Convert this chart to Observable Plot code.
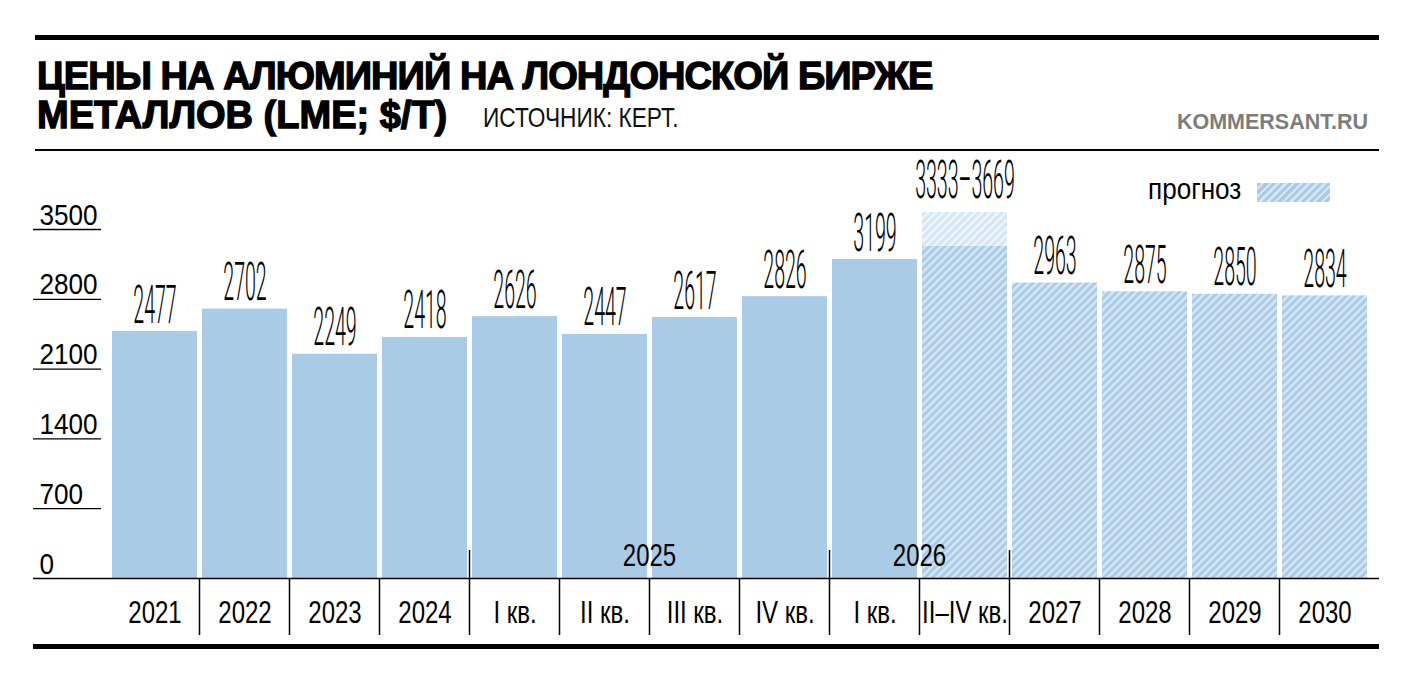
<!DOCTYPE html>
<html>
<head>
<meta charset="utf-8">
<script src="https://cdn.jsdelivr.net/npm/d3@7"></script>
<script src="https://cdn.jsdelivr.net/npm/@observablehq/plot@0.6"></script>
<style>
  html, body { margin: 0; padding: 0; background: #fff; }
  #wrap { position: relative; width: 1412px; height: 680px; overflow: hidden; font-family: "Liberation Sans", Arial, sans-serif; color: #000; }
  .rule { position: absolute; background: #000; }
  .t { position: absolute; white-space: nowrap; }
  .title { left: 37px; font-size: 38px; line-height: 38px; font-weight: 700; -webkit-text-stroke: 1.3px #000; }
  .src { left: 483px; top: 104px; font-size: 28px; line-height: 28px; transform: scaleX(0.81); transform-origin: 0 0; color: #111; }
  .brand { right: 44px; top: 112px; font-size: 21.5px; line-height: 21.5px; font-weight: 700; color: #7d7d7d; letter-spacing: 0px; }
  .legend-text { left: 1148px; top: 175px; font-size: 29px; line-height: 29px; transform: scaleX(0.9); transform-origin: 0 0; }
  .swatch { position: absolute; left: 1257px; top: 183px; width: 73px; height: 19px;
    background: repeating-linear-gradient(135deg, #abcae4 0 3px, #d3e6f5 3px 5.5px); }
  #chart { position: absolute; left: 0; top: 120px; }
</style>
</head>
<body>
<div id="wrap">
  <div class="rule" style="left:35px;top:35px;width:1344px;height:5px"></div>
  <div class="t title" style="top:57px;letter-spacing:-0.95px">ЦЕНЫ НА АЛЮМИНИЙ НА ЛОНДОНСКОЙ БИРЖЕ</div>
  <div class="t title" style="top:96px;letter-spacing:0px">МЕТАЛЛОВ (LME; $/T)</div>
  <div class="t src">ИСТОЧНИК: КЕРТ.</div>
  <div class="t brand">KOMMERSANT.RU</div>
  <div class="rule" style="left:35px;top:149px;width:1344px;height:2px"></div>
  <div id="chart"></div>
  <div class="t legend-text">прогноз</div>
  <div class="swatch"></div>
  <div class="rule" style="left:33px;top:644px;width:1346px;height:5px"></div>
</div>
<script>
// ---- data ----
const keys = ["2021","2022","2023","2024","2025Q1","2025Q2","2025Q3","2025Q4","2026Q1","2026Q2-4","2027","2028","2029","2030"];
const tickLabels = ["2021","2022","2023","2024","I кв.","II кв.","III кв.","IV кв.","I кв.","II–IV кв.","2027","2028","2029","2030"];
const values = [2477, 2702, 2249, 2418, 2626, 2447, 2617, 2826, 3199, 3333, 2963, 2875, 2850, 2834];
const highValues = [null, null, null, null, null, null, null, null, null, 3669, null, null, null, null];
const valueLabels = ["2477","2702","2249","2418","2626","2447","2617","2826","3199","3333–3669","2963","2875","2850","2834"];
const isForecast = [false, false, false, false, false, false, false, false, false, true, true, true, true, true];
const groupNames = ["2025", "2026"];
const groupFrom = ["2025Q1", "2026Q1"];
const groupTo = ["2025Q4", "2026Q2-4"];
const yTicks = [0, 700, 1400, 2100, 2800, 3500];

const rows = keys.map((k, i) => ({
  key: k, value: values[i], high: highValues[i], label: valueLabels[i],
  top: highValues[i] ?? values[i], forecast: isForecast[i]
}));
const labelMap = new Map(keys.map((k, i) => [k, tickLabels[i]]));

function patterns() {
  const g = d3.create("svg:g");
  const defs = g.append("defs");
  const mk = (id, bg, fg) => {
    const p = defs.append("pattern").attr("id", id).attr("patternUnits", "userSpaceOnUse")
      .attr("width", 5.5).attr("height", 5.5).attr("patternTransform", "rotate(45)");
    p.append("rect").attr("width", 5.5).attr("height", 5.5).attr("fill", bg);
    p.append("rect").attr("width", 2.5).attr("height", 5.5).attr("fill", fg);
  };
  mk("hatch", "#abcae4", "#d3e6f5");
  mk("hatchLight", "#d5e5f3", "#eef5fb");
  return g.node();
}

function decorations(index, scales) {
  const x = scales.x, y = scales.y;
  const step = typeof x.step === "function" ? x.step() : (x(keys[1]) - x(keys[0]));
  const bw = typeof x.bandwidth === "function" ? x.bandwidth() : step * 0.945;
  const gap = (step - bw) / 2;
  const y0 = y(0);
  const tall = new Set();
  groupFrom.forEach(k => tall.add(k));
  groupTo.forEach(k => { const j = keys.indexOf(k) + 1; if (j < keys.length) tall.add(keys[j]); });
  const g = d3.create("svg:g").attr("class", "separators");
  keys.slice(1).forEach(k => {
    const bx = x(k) - gap;
    g.append("line").attr("x1", bx).attr("x2", bx)
      .attr("y1", tall.has(k) ? y0 - 28 : y0).attr("y2", y0 + 57)
      .attr("stroke", "#000").attr("stroke-width", 1.5);
  });
  groupNames.forEach((name, i) => {
    const cx = (x(groupFrom[i]) + x(groupTo[i]) + bw) / 2;
    g.append("text").attr("class", "grp").attr("x", cx).attr("y", y0 - 12)
      .attr("text-anchor", "middle").attr("font-size", 32).attr("fill", "#000").text(name);
  });
  return g.node();
}

const valueFont = "Roboto, Liberation Sans, Arial, sans-serif";

const chart = Plot.plot({
  width: 1412,
  height: 560,
  marginLeft: 110,
  marginRight: 42,
  marginTop: 109,
  marginBottom: 102,
  style: { fontFamily: "Liberation Sans, Arial, sans-serif", fontSize: "30px", color: "#000", background: "transparent" },
  x: { domain: keys, paddingInner: 0.055, paddingOuter: 0.0275, align: 0.5, axis: null, label: null },
  y: { domain: [0, 3500], axis: null, label: null },
  marks: [
    patterns,
    Plot.barY(rows.filter(d => !d.forecast), { x: "key", y: "value", fill: "#a9cbe6" }),
    Plot.barY(rows.filter(d => d.forecast), { x: "key", y: "value", fill: "url(#hatch)" }),
    Plot.barY(rows.filter(d => d.high != null), { x: "key", y1: "value", y2: "high", fill: "url(#hatchLight)" }),
    Plot.axisY(yTicks.filter(v => v > 0), { tickSize: 68, dx: -9, fill: "none", strokeWidth: 1.3, label: null }),
    Plot.axisY(yTicks, { tickSize: 0, tickPadding: 71, textAnchor: "start", lineAnchor: "bottom", dy: -5, fontSize: 30, tickFormat: d => String(d), label: null }),
    Plot.ruleY([0], { insetLeft: -77, insetRight: -9, strokeWidth: 1.5 }),
    Plot.axisX(keys, { anchor: "bottom", tickSize: 0, tickPadding: 22, fontSize: 32, tickFormat: k => labelMap.get(k), label: null }),
    Plot.text(rows.filter(d => d.high == null), { x: "key", y: "top", text: "label", lineAnchor: "bottom", dy: -9, fontSize: 53, fontFamily: valueFont, fontWeight: 300 }),
    Plot.text(rows.filter(d => d.high != null), { x: "key", y: "top", text: "label", lineAnchor: "bottom", dy: -15, fontSize: 53, fontFamily: valueFont, fontWeight: 300 }),
    decorations
  ]
});

document.getElementById("chart").appendChild(chart);

// condense glyphs horizontally (narrow typeface look) around each text's anchor
function condenseText(t, s) {
  const wrap = document.createElementNS("http://www.w3.org/2000/svg", "g");
  t.parentNode.insertBefore(wrap, t);
  wrap.appendChild(t);
  const bb = wrap.getBBox();
  const anchor = getComputedStyle(t).textAnchor;
  const ax = anchor === "middle" ? bb.x + bb.width / 2 : anchor === "end" ? bb.x + bb.width : bb.x;
  wrap.setAttribute("transform", `translate(${ax},0) scale(${s},1) translate(${-ax},0)`);
}
Array.from(chart.querySelectorAll("text")).forEach(t => {
  const g = t.closest("g[aria-label]");
  const lab = g ? g.getAttribute("aria-label") : "";
  if (t.classList.contains("grp")) condenseText(t, 0.75);
  else if (lab === "y-axis tick label") condenseText(t, 0.87);
  else if (lab === "x-axis tick label") condenseText(t, 0.75);
  else if (lab === "text") condenseText(t, 0.37);
});
</script>
</body>
</html>
